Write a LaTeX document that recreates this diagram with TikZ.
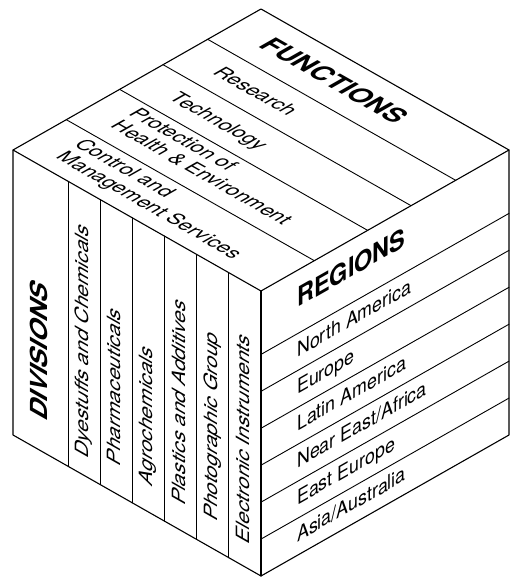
\documentclass[tikz,border=0pt]{standalone}
\usepackage{fontspec}
\setmainfont{TeX Gyre Heros}
\usetikzlibrary{calc}
\begin{document}
\begin{tikzpicture}
\tikzset{
  outline/.style={line width=1.1pt, line join=round, line cap=round},
  divline/.style={line width=0.9pt, line cap=round},
  rface/.style={cm={0.8693,0.4942,0,1,(0pt,0pt)}, inner sep=0pt, anchor=base west},
  lface/.style={cm={0,1,-0.8693,0.4942,(0pt,0pt)}, inner sep=0pt, anchor=base west},
  tface/.style={cm={0.8693,-0.4942,0.8693,0.4942,(0pt,0pt)}, inner sep=0pt, anchor=base west},
  head/.style={font=\fontsize{27}{30}\selectfont\bfseries},
  lab/.style={font=\fontsize{20.5}{24}\selectfont},
  llab/.style={font=\fontsize{21}{24}\selectfont},
}
\useasboundingbox (0pt,0pt) rectangle (514pt,578pt);
\begin{scope}[shift={(261pt,287pt)}, x={(248pt,141pt)}, y={(-248pt,141pt)}, z={(0pt,-285pt)}]
  % corners
  \coordinate (F) at (0,0,0);
  \coordinate (R) at (1,0,0);
  \coordinate (L) at (0,1,0);
  \coordinate (T) at (1,1,0);
  \coordinate (Fb) at (0,0,1);
  \coordinate (Rb) at (1,0,1);
  \coordinate (Lb) at (0,1,1);
  % top face stripes
  \foreach \t in {0.215,0.395,0.57,0.785}
    \draw[divline] ($(T)!\t!(L)$) -- ($(R)!\t!(F)$);
  % left face stripes
  \foreach \k in {1,...,6}
    \draw[divline] ($(F)!{\k*0.1296}!(L)$) -- ($(Fb)!{\k*0.1296}!(Lb)$);
  % right face stripes
  \foreach \k in {0,...,5}
    \draw[divline] ($(F)!{0.2225+\k*0.1296}!(Fb)$) -- ($(R)!{0.2225+\k*0.1296}!(Rb)$);
  % outline
  \draw[outline] (T) -- (L) -- (Lb) -- (Fb) -- (Rb) -- (R) -- cycle;
  \draw[outline] (L) -- (F) -- (R);
  \draw[outline] (F) -- (Fb);

  % top face texts
  \node[tface,head] (functions) at (0.861,0.877,0) {FUNCTIONS};
  \node[tface,lab] (research) at (0.672,0.872,0) {Research};
  \node[tface,lab] (technology) at (0.493,0.870,0) {Technology};
  \node[tface,lab] (prot1) at (0.357,0.895,0) {Protection of};
  \node[tface,lab] (prot2) at (0.276,0.888,0) {Health \& Environment};
  \node[tface,lab] (ctrl1) at (0.137,0.895,0) {Control and};
  \node[tface,lab] (ctrl2) at (0.056,0.888,0) {Management Services};

  % left face texts
  \node[lface,head] (divisions) at (0,0.860,0.888) {DIVISIONS};
  \node[lface,llab] (dye) at (0,0.695,0.935) {Dyestuffs and Chemicals};
  \node[lface,llab] (pharma) at (0,0.5654,0.898) {Pharmaceuticals};
  \node[lface,llab] (agro) at (0,0.4358,0.905) {Agrochemicals};
  \node[lface,llab] (plastics) at (0,0.3062,0.909) {Plastics and Additives};
  \node[lface,llab] (photo) at (0,0.1766,0.902) {Photographic Group};
  \node[lface,llab] (electro) at (0,0.047,0.916) {Electronic Instruments};

  % right face texts
  \node[rface,head] (regions) at (0.145,0,0.131) {REGIONS};
  \node[rface,lab] (namerica) at (0.145,0,0.305) {North America};
  \node[rface,lab] (europe) at (0.145,0,0.435) {Europe};
  \node[rface,lab] (lamerica) at (0.145,0,0.564) {Latin America};
  \node[rface,lab] (neareast) at (0.145,0,0.694) {Near East/Africa};
  \node[rface,lab] (easteurope) at (0.145,0,0.824) {East Europe};
  \node[rface,lab] (asia) at (0.145,0,0.953) {Asia/Australia};
\end{scope}
\end{tikzpicture}
\end{document}
